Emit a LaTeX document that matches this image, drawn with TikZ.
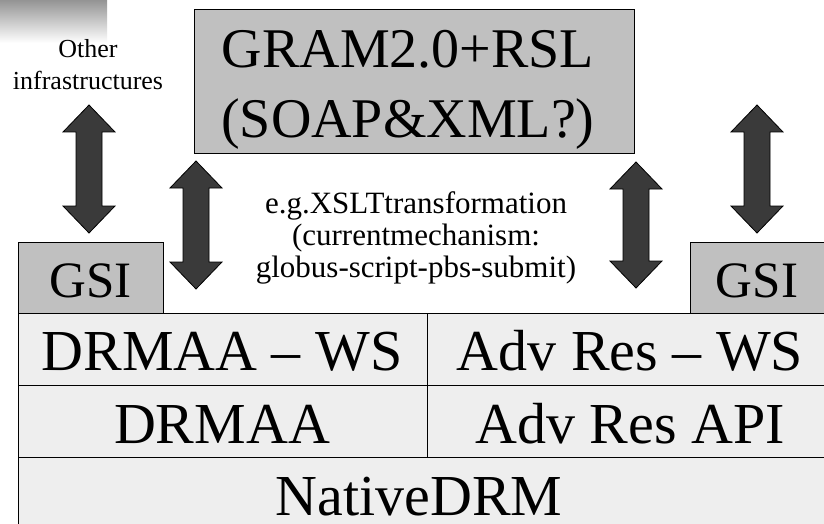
\documentclass[tikz,border=0pt]{standalone}
\usepackage{fontspec}
\setmainfont{Liberation Serif}
\definecolor{boxgray}{HTML}{C0C0C0}
\definecolor{rowgray}{HTML}{EEEEEE}
\definecolor{arrgray}{HTML}{3A3A3A}
\newcommand{\DblArr}[3]{% x, top, bottom
  \filldraw[arrowshape] (#1,#2) -- ++(26,27) -- ++(-13,0) -- (#1+13,#3-27) -- ++(13,0) -- (#1,#3)
    -- (#1-26,#3-27) -- ++(13,0) -- (#1-13,#2+27) -- ++(-13,0) -- cycle;}
\tikzset{
  darkbox/.style={draw=black, line width=1pt, fill=boxgray, anchor=north west, inner sep=0pt},
  rowbox/.style={draw=black, line width=1pt, fill=rowgray, anchor=north west, inner sep=0pt},
  arrowshape/.style={fill=arrgray, draw=black, line width=0.8pt, line join=miter},
  bigtext/.style={font=\fontsize{58}{60}\selectfont, anchor=base, inner sep=0pt},
  gsitext/.style={font=\fontsize{51}{53}\selectfont, anchor=base, inner sep=0pt},
  gramtext/.style={font=\fontsize{56}{58}\selectfont, anchor=base, inner sep=0pt},
  midtext/.style={font=\fontsize{31}{32}\selectfont, anchor=base, inner sep=0pt},
  smalltext/.style={font=\fontsize{26}{30}\selectfont, anchor=base, inner sep=0pt}
}
\begin{document}
\begin{tikzpicture}[x=1pt,y=-1pt]
\useasboundingbox (0,0) rectangle (824,524);
\clip (0,0) rectangle (824,524);
\fill[white] (0,0) rectangle (824,524);
% top-left fade
\shade[top color=black!42, bottom color=white] (0,0) rectangle (107,43);
% boxes
\node[darkbox, minimum width=440pt, minimum height=144pt] (gram) at (194,9) {};
\node[darkbox, minimum width=145pt, minimum height=71pt] (gsiL) at (18,242) {};
\node[darkbox, minimum width=145pt, minimum height=71pt] (gsiR) at (690,242) {};
\node[rowbox, minimum width=409pt, minimum height=72pt] (drmaaws) at (18,313) {};
\node[rowbox, minimum width=410pt, minimum height=72pt] (advws) at (427,313) {};
\node[rowbox, minimum width=409pt, minimum height=72pt] (drmaa) at (18,385) {};
\node[rowbox, minimum width=410pt, minimum height=72pt] (advapi) at (427,385) {};
\node[rowbox, minimum width=830pt, minimum height=90pt] (native) at (18,457) {};
% arrows
\DblArr{89}{105}{233}
\DblArr{196}{161}{289}
\DblArr{636}{162}{288}
\DblArr{757}{105}{233}
% texts
\node[smalltext] (o1) at (88,58) {Other};
\node[smalltext] (o2) at (88,90) {infrastructures};
\node[gramtext] (g1) at (408,68) {GRAM2.0+RSL};
\node[gramtext] (g2) at (408,137) {(SOAP\&XML?)};
\node[midtext] (m1) at (416,213) {e.g.XSLTtransformation};
\node[midtext] (m2) at (416,245) {(currentmechanism:};
\node[midtext] (m3) at (416,277) {globus-script-pbs-submit)};
\node[gsitext] (tgsiL) at (90.5,297) {GSI};
\node[gsitext] (tgsiR) at (757,297) {GSI};
\node[bigtext] (t1) at (222,370) {DRMAA – WS};
\node[bigtext] (t2) at (630,370) {Adv Res – WS};
\node[bigtext] (t3) at (222,443) {DRMAA};
\node[bigtext] (t4) at (630,443) {Adv Res API};
\node[bigtext] (t5) at (419,515) {NativeDRM};
\end{tikzpicture}
\end{document}
